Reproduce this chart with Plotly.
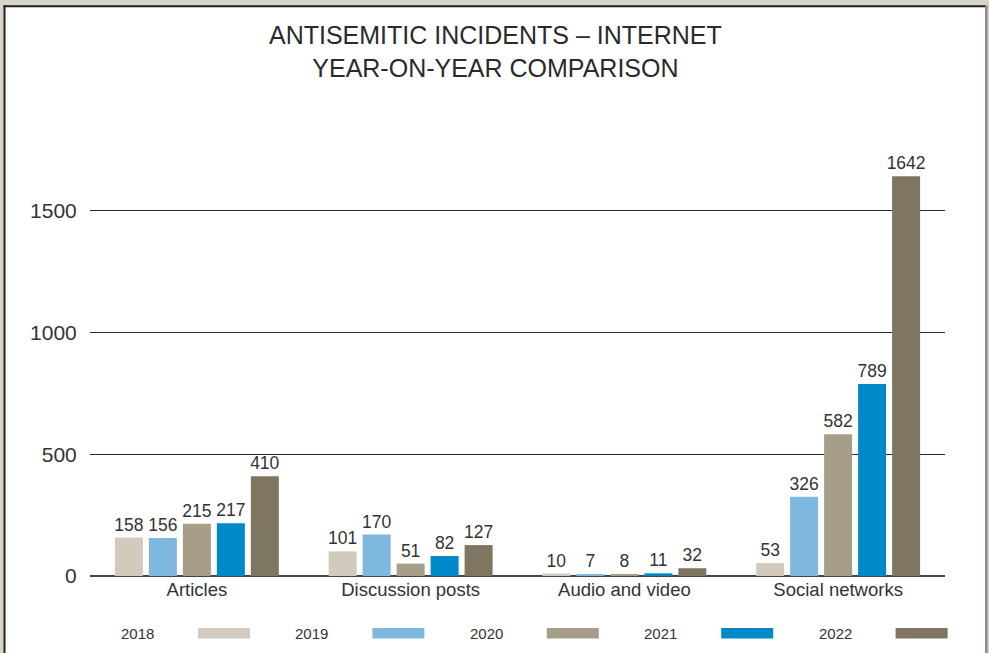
import plotly.graph_objects as go

categories = ["Articles", "Discussion posts", "Audio and video", "Social networks"]
years = ["2018", "2019", "2020", "2021", "2022"]
v2018 = [158, 101, 10, 53]
v2019 = [156, 170, 7, 326]
v2020 = [215, 51, 8, 582]
v2021 = [217, 82, 11, 789]
v2022 = [410, 127, 32, 1642]
series = [v2018, v2019, v2020, v2021, v2022]
colors = ["#d2cabd", "#7fb8df", "#a79e89", "#0089c9", "#7f7661"]
ytick_vals = [0, 500, 1000, 1500]

W, H = 989, 653
L, R, T, B = 90, 44, 150, 77
PW = W - L - R
PH = H - T - B


def px_x(px):
    return (px - L) / PW


def px_y(py):
    return (H - B - py) / PH


FONT = "Liberation Sans, Arial, sans-serif"
TXT = "#333333"

fig = go.Figure()
for yr, vals, col in zip(years, series, colors):
    fig.add_trace(go.Bar(
        x=categories, y=vals, name=yr, marker=dict(color=col, line=dict(width=0)),
        text=[str(v) for v in vals], textposition="outside", constraintext="none",
        textfont=dict(family=FONT, size=17.5, color=TXT), cliponaxis=False,
    ))

shapes = [
    dict(type="rect", xref="paper", yref="paper", x0=px_x(4.5), x1=px_x(986), y0=px_y(700), y1=px_y(6.2),
         fillcolor="white", line=dict(width=0), layer="below"),
    dict(type="line", xref="paper", yref="paper", x0=px_x(4.5), x1=px_x(4.5), y0=px_y(700), y1=px_y(5.2),
         line=dict(color="#222222", width=2), layer="below"),
    dict(type="line", xref="paper", yref="paper", x0=px_x(3.5), x1=px_x(986), y0=px_y(6.2), y1=px_y(6.2),
         line=dict(color="#222222", width=2), layer="below"),
    dict(type="line", xref="paper", yref="paper", x0=px_x(986.3), x1=px_x(986.3), y0=px_y(700), y1=px_y(5.2),
         line=dict(color="#8a8a8a", width=2.5), layer="below"),
]
annotations = [
    dict(xref="paper", yref="paper", x=px_x(495), y=px_y(51), showarrow=False,
         text="ANTISEMITIC INCIDENTS – INTERNET<br>YEAR-ON-YEAR COMPARISON",
         xanchor="center", yanchor="middle",
         font=dict(family=FONT, size=25, color="#2a2a2a")),
]
for i, (yr, col) in enumerate(zip(years, colors)):
    cx = 137.5 + 174.4 * i
    sx = 198 + 174.4 * i
    annotations.append(dict(xref="paper", yref="paper", x=px_x(cx), y=px_y(633), text=yr, showarrow=False,
                            xanchor="center", yanchor="middle", font=dict(family=FONT, size=15, color=TXT)))
    shapes.append(dict(type="rect", xref="paper", yref="paper", x0=px_x(sx), x1=px_x(sx + 52),
                       y0=px_y(638.5), y1=px_y(628), fillcolor=col, line=dict(width=0)))

fig.update_layout(
    width=W, height=H,
    margin=dict(l=L, r=R, t=T, b=B, pad=0),
    paper_bgcolor="#d9d4c9",
    plot_bgcolor="rgba(0,0,0,0)",
    barmode="group", bargap=0.205, bargroupgap=0.176,
    showlegend=False,
    xaxis=dict(showgrid=False, showline=False, ticks="",
               tickfont=dict(family=FONT, size=18.5, color=TXT)),
    yaxis=dict(range=[0, 1750], tickvals=ytick_vals, showgrid=True, gridcolor="#2a2a2a", gridwidth=1,
               zeroline=True, zerolinecolor="#444444", zerolinewidth=1.5,
               ticks="outside", ticklen=8, tickcolor="rgba(0,0,0,0)",
               tickfont=dict(family=FONT, size=21, color=TXT)),
    shapes=shapes, annotations=annotations,
)

fig.write_html("out.html", config={"displayModeBar": False},
               post_script="document.body.style.margin='0';document.body.style.overflow='hidden';")
